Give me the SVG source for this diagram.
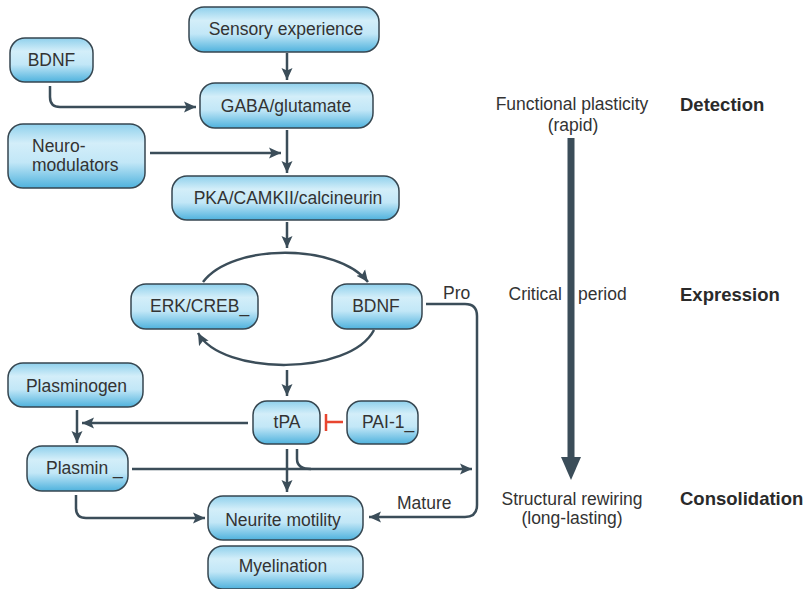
<svg xmlns="http://www.w3.org/2000/svg" width="805" height="589" viewBox="0 0 805 589">
<defs>
<linearGradient id="box" x1="0" y1="0" x2="0" y2="1">
<stop offset="0" stop-color="#8fd0ec"/>
<stop offset="0.3" stop-color="#d3eef9"/>
<stop offset="0.6" stop-color="#c2e7f7"/>
<stop offset="1" stop-color="#4fb2dd"/>
</linearGradient>
<marker id="ah" markerUnits="userSpaceOnUse" markerWidth="13" markerHeight="12" refX="12" refY="6" orient="auto">
<path d="M0,0.5 L12,6 L0,11.5 L2.5,6 Z" fill="#3b4d59"/>
</marker>
<style>
.nb{fill:url(#box);stroke:#364650;stroke-width:1.5}
.t{font-family:"Liberation Sans",Arial,sans-serif;font-size:17.5px;fill:#333}
.c{text-anchor:middle}
.b{font-family:"Liberation Sans",Arial,sans-serif;font-size:18.5px;font-weight:bold;fill:#2a2a2a}
.ln{fill:none;stroke:#3b4d59;stroke-width:2.5}
.ar{marker-end:url(#ah)}
</style>
</defs>
<rect width="805" height="589" fill="#fff"/>

<g id="connectors">
<path class="ln ar" d="M287,53 V80"/>
<path class="ln ar" d="M50,86 V97 Q50,107 60,107 H196"/>
<path class="ln ar" d="M150,153 H281"/>
<path class="ln ar" d="M287,130 V173"/>
<path class="ln ar" d="M287,222 V248"/>
<path class="ln ar" d="M203,282 C232,243 338,243 368,282"/>
<path class="ln ar" d="M374,330 C350,376 222,376 198,333"/>
<path class="ln ar" d="M426,304 H465 Q477,304 477,316 V505 Q477,517 465,517 H369"/>
<path class="ln ar" d="M287,370 V396"/>
<path class="ln ar" d="M248,423 H82"/>
<path class="ln ar" d="M77,410 V443"/>
<path d="M343,422 H326 M326,414 V431" fill="none" stroke="#e8452f" stroke-width="2.5"/>
<path class="ln ar" d="M132,469 H472"/>
<path class="ln" d="M297,449 V459 Q297,469 311,469"/>
<path class="ln ar" d="M287,449 V492"/>
<path class="ln ar" d="M76,495 V508 Q76,518 86,518 H205"/>
</g>

<g id="sensory"><rect class="nb" x="189" y="7" width="190" height="45" rx="15"/><text class="t c" x="286" y="35">Sensory experience</text></g>
<g id="bdnf1"><rect class="nb" x="10" y="38" width="83" height="44" rx="15"/><text class="t c" x="51.5" y="66">BDNF</text></g>
<g id="gaba"><rect class="nb" x="200" y="83" width="173" height="45" rx="15"/><text class="t c" x="286" y="112">GABA/glutamate</text></g>
<g id="neuromod"><rect class="nb" x="8" y="124" width="137" height="64" rx="15"/><text class="t" x="32" y="152">Neuro-</text><text class="t" x="32" y="171">modulators</text></g>
<g id="pka"><rect class="nb" x="172" y="176" width="227" height="44" rx="15"/><text class="t c" x="288" y="204">PKA/CAMKII/calcineurin</text></g>
<g id="erk"><rect class="nb" x="131" y="284" width="127" height="45" rx="15"/><text class="t" x="150" y="312">ERK/CREB_</text></g>
<g id="bdnf2"><rect class="nb" x="332" y="284" width="90" height="45" rx="15"/><text class="t c" x="376" y="312">BDNF</text></g>
<g id="plasminogen"><rect class="nb" x="8" y="363" width="135" height="44" rx="15"/><text class="t c" x="76.5" y="392">Plasminogen</text></g>
<g id="tpa"><rect class="nb" x="253" y="401" width="67" height="43" rx="14"/><text class="t c" x="287" y="428">tPA</text></g>
<g id="pai1"><rect class="nb" x="347" y="401" width="71" height="43" rx="14"/><text class="t" x="362" y="428">PAI-1_</text></g>
<g id="plasmin"><rect class="nb" x="27" y="446" width="101" height="45" rx="15"/><text class="t" x="46" y="474">Plasmin _</text></g>
<g id="neurite"><rect class="nb" x="208" y="496" width="155" height="44" rx="15"/><text class="t c" x="283" y="526">Neurite motility</text></g>
<g id="myelination"><rect class="nb" x="208" y="546" width="155" height="43" rx="15"/><text class="t c" x="283" y="572">Myelination</text></g>

<g id="labels">
<text class="t" x="443" y="299">Pro</text>
<text class="t" x="397" y="509">Mature</text>
</g>

<g id="timeline">
<line x1="571" y1="138" x2="571" y2="460" stroke="#3b4d59" stroke-width="7"/>
<polygon points="561,457 581,457 571,480" fill="#3b4d59"/>
<text class="t c" x="572" y="110">Functional plasticity</text>
<text class="t c" x="573" y="131">(rapid)</text>
<text class="t" x="562" y="300" text-anchor="end">Critical</text>
<text class="t" x="578" y="300">period</text>
<text class="t c" x="572" y="505">Structural rewiring</text>
<text class="t c" x="572" y="524">(long-lasting)</text>
<text class="b" x="680" y="111">Detection</text>
<text class="b" x="680" y="301">Expression</text>
<text class="b" x="680" y="505">Consolidation</text>
</g>
</svg>
